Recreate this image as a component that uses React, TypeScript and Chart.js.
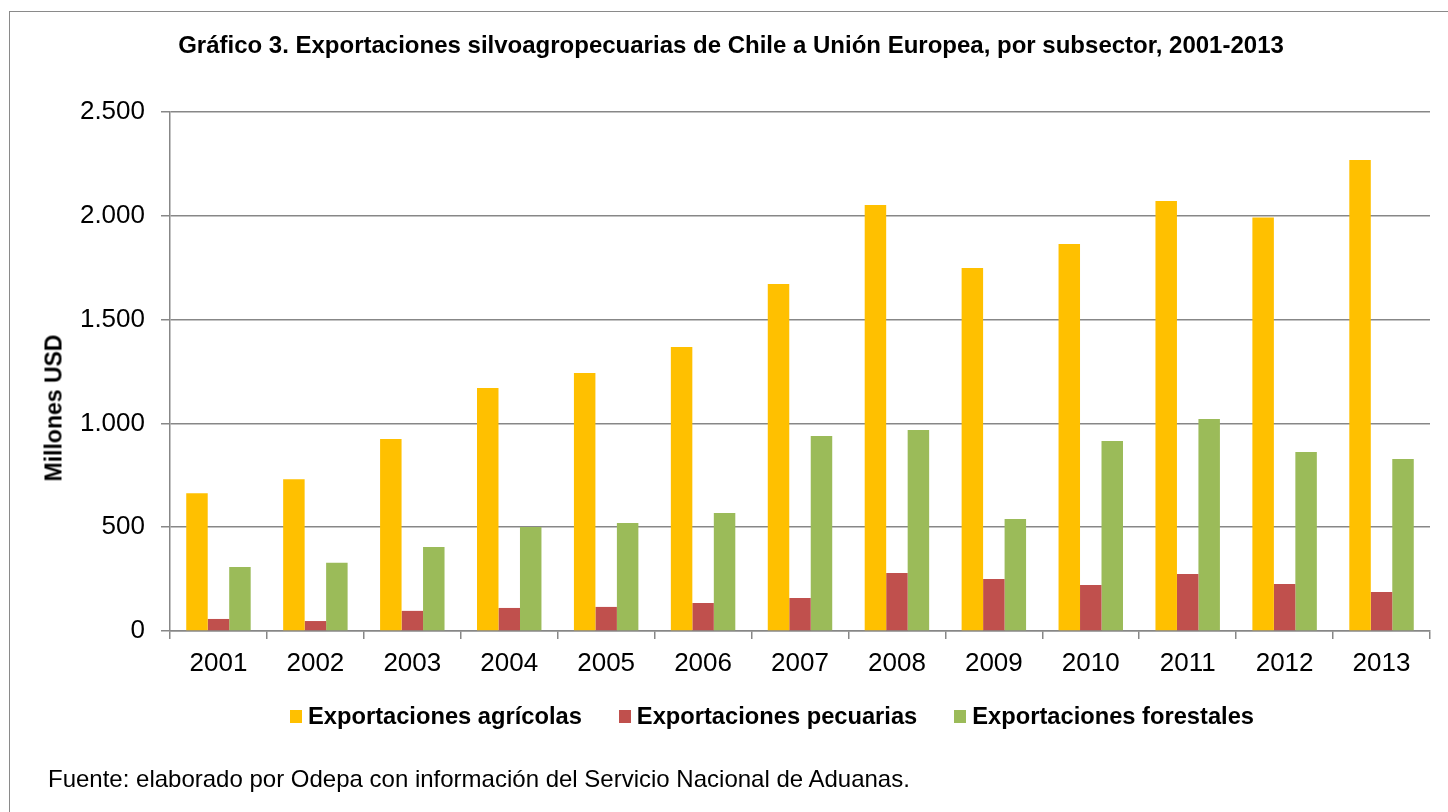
import React, { useEffect, useRef } from "react";
import { Chart, registerables } from "chart.js";

Chart.register(...registerables);

const years = ["2001", "2002", "2003", "2004", "2005", "2006", "2007", "2008", "2009", "2010", "2011", "2012", "2013"];
const agricolas = [664, 731, 925, 1170, 1243, 1368, 1671, 2052, 1749, 1864, 2071, 1992, 2269];
const pecuarias = [58, 48, 97, 111, 116, 135, 159, 279, 250, 222, 275, 226, 188];
const forestales = [308, 329, 405, 501, 520, 568, 939, 968, 539, 915, 1021, 862, 829];
const seriesNames = ["Exportaciones agrícolas", "Exportaciones pecuarias", "Exportaciones forestales"];
const seriesColors = ["#FFC000", "#C0504D", "#9BBB59"];
const yTickValues = [0, 500, 1000, 1500, 2000, 2500];
const yTickLabels = ["0", "500", "1.000", "1.500", "2.000", "2.500"];
const titleText = "Gráfico 3. Exportaciones silvoagropecuarias de Chile a Unión Europea, por subsector, 2001-2013";
const yAxisTitle = "Millones USD";
const footerText = "Fuente: elaborado por Odepa con información del Servicio Nacional de Aduanas.";

const FONT = "'Liberation Sans', Arial, Helvetica, sans-serif";
const GRID = "#878787";

export default function App() {
  const ref = useRef<HTMLCanvasElement | null>(null);

  useEffect(() => {
    if (!ref.current) return;
    const series = [agricolas, pecuarias, forestales];
    const chart = new Chart(ref.current, {
      type: "bar",
      data: {
        labels: years,
        datasets: series.map((d, i) => ({
          label: seriesNames[i],
          data: d,
          backgroundColor: seriesColors[i],
          borderWidth: 0,
          categoryPercentage: 0.665,
          barPercentage: 1,
        })),
      },
      options: {
        responsive: false,
        animation: false,
        devicePixelRatio: 1,
        layout: { padding: { left: 0, right: 18, top: 112, bottom: 121 } },
        plugins: {
          legend: { display: false },
          title: { display: false },
          tooltip: { enabled: false },
        },
        scales: {
          x: {
            offset: true,
            grid: {
              display: true,
              offset: true,
              drawOnChartArea: false,
              drawTicks: true,
              tickLength: 8,
              color: GRID,
              lineWidth: 1.5,
            },
            border: { display: true, color: GRID, width: 1.5 },
            ticks: {
              color: "#000",
              font: { family: FONT, size: 26 },
              padding: 9,
              maxRotation: 0,
              autoSkip: false,
            },
            afterFit: (s: any) => {
              s.height = 60;
            },
          },
          y: {
            min: 0,
            max: 2500,
            afterBuildTicks: (s: any) => {
              s.ticks = yTickValues.map((v) => ({ value: v }));
            },
            ticks: {
              color: "#000",
              font: { family: FONT, size: 26 },
              padding: 16,
              callback: (v: any) => {
                const i = yTickValues.indexOf(Number(v));
                return i >= 0 ? yTickLabels[i] : "";
              },
            },
            grid: { color: GRID, lineWidth: 1.5, tickLength: 9, drawTicks: true },
            border: { display: true, color: GRID, width: 1.5 },
            afterFit: (s: any) => {
              s.width = 170;
            },
          },
        },
      },
    });
    return () => chart.destroy();
  }, []);

  return (
    <div
      style={{
        position: "absolute",
        left: 0,
        top: 0,
        width: 1448,
        height: 812,
        overflow: "hidden",
        background: "#fff",
        fontFamily: FONT,
        color: "#000",
      }}
    >
      <div
        style={{
          position: "absolute",
          left: 9,
          top: 11,
          width: 1460,
          height: 820,
          borderLeft: "1.5px solid #8a8a8a",
          borderTop: "1.5px solid #8a8a8a",
          boxSizing: "border-box",
        }}
      />
      <canvas ref={ref} width={1448} height={812} style={{ position: "absolute", left: 0, top: 0 }} />
      <div
        style={{
          position: "absolute",
          left: 0,
          width: 1462,
          top: 33,
          textAlign: "center",
          fontWeight: "bold",
          fontSize: 24,
          lineHeight: "24px",
          whiteSpace: "nowrap",
        }}
      >
        {titleText}
      </div>
      <div
        style={{
          position: "absolute",
          left: 54,
          top: 407.5,
          transform: "translate(-50%, -50%) rotate(-90deg)",
          fontWeight: "bold",
          fontSize: 23,
          lineHeight: "23px",
          whiteSpace: "nowrap",
        }}
      >
        {yAxisTitle}
      </div>
      <div
        style={{
          position: "absolute",
          left: 290,
          top: 704,
          display: "flex",
          gap: 37,
          alignItems: "center",
          whiteSpace: "nowrap",
        }}
      >
        {seriesNames.map((n, i) => (
          <div key={n} style={{ display: "flex", alignItems: "center" }}>
            <span
              style={{
                display: "inline-block",
                width: 12,
                height: 13,
                background: seriesColors[i],
                marginRight: 6,
              }}
            />
            <span style={{ fontWeight: "bold", fontSize: 23.7, lineHeight: "24px" }}>{n}</span>
          </div>
        ))}
      </div>
      <div
        style={{
          position: "absolute",
          left: 48,
          top: 767,
          fontSize: 24,
          lineHeight: "24px",
          whiteSpace: "nowrap",
        }}
      >
        {footerText}
      </div>
    </div>
  );
}
